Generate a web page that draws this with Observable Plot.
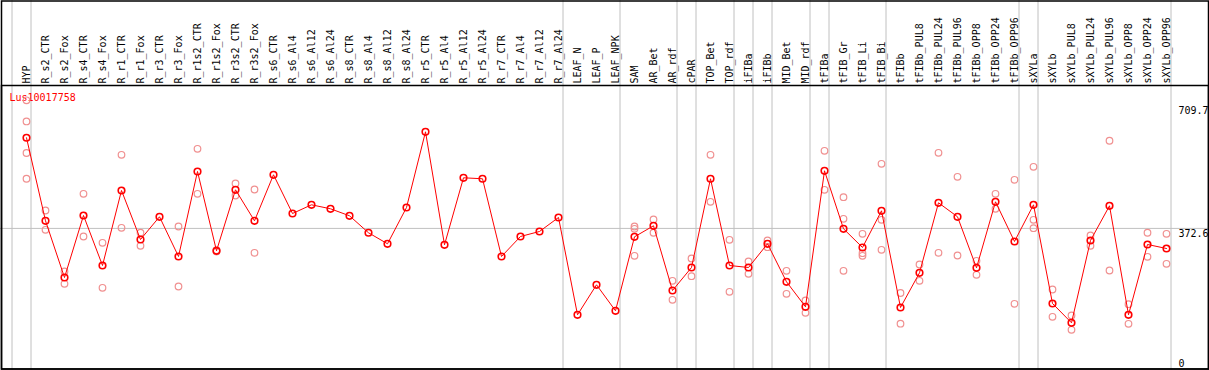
<!DOCTYPE html>
<html><head><meta charset="utf-8">
<script src="https://cdn.jsdelivr.net/npm/d3@7"></script>
<script src="https://cdn.jsdelivr.net/npm/@observablehq/plot@0.6"></script>
<style>html,body{margin:0;padding:0;background:#fff} svg{display:block}</style>
</head><body><div id="chart"></div>
<script>
const gene = "Lus10017758";
const categories = ["HYP","R_s2_CTR","R_s2_Fox","R_s4_CTR","R_s4_Fox","R_r1_CTR","R_r1_Fox","R_r3_CTR","R_r3_Fox","R_r1s2_CTR","R_r1s2_Fox","R_r3s2_CTR","R_r3s2_Fox","R_s6_CTR","R_s6_Al4","R_s6_Al12","R_s6_Al24","R_s8_CTR","R_s8_Al4","R_s8_Al12","R_s8_Al24","R_r5_CTR","R_r5_Al4","R_r5_Al12","R_r5_Al24","R_r7_CTR","R_r7_Al4","R_r7_Al12","R_r7_Al24","LEAF_N","LEAF_P","LEAF_NPK","SAM","AR_Bet","AR_rdf","cPAR","TOP_Bet","TOP_rdf","iFIBa","iFIBb","MID_Bet","MID_rdf","tFIBa","tFIB_Gr","tFIB_Li","tFIB_Bi","tFIBb","tFIBb_PUL8","tFIBb_PUL24","tFIBb_PUL96","tFIBb_OPP8","tFIBb_OPP24","tFIBb_OPP96","sXYLa","sXYLb","sXYLb_PUL8","sXYLb_PUL24","sXYLb_PUL96","sXYLb_OPP8","sXYLb_OPP24","sXYLb_OPP96"];
const means = [611.1,392.6,243.4,406.6,275.0,472.4,343.4,403.2,298.7,522.4,313.7,474.2,392.6,513.7,411.8,434.7,424.2,405.8,361.1,332.1,427.6,626.8,329.5,505.8,503.2,298.7,351.3,364.5,401.3,145.3,224.2,155.8,350.5,379.5,209.2,269.7,503.2,275.0,269.7,332.1,232.1,166.3,524.2,371.6,322.4,418.9,164.5,255.8,440.0,403.2,268.9,442.6,338.2,434.7,175.0,124.2,340.8,432.1,145.3,330.3,319.7];
const replicates = [
  [709.7,654,571,503.2],[419.7,368.9],[259.2,226.8],[463.7,351.3],[334.7,216.3],
  [566.3,374.2],[361.1,326.8],[],[377.6,219.7],[582.1,463.7],
  [315.3,311.8],[490.8,459.2],[475,308.4],[],[],
  [],[],[],[],[],
  [],[],[],[],[],
  [],[],[],[],[],
  [],[],[377.6,371.6,300.5],[396.1,361.1],[234.7,184.7],
  [293.4,246.8],[566.3,442.6],[342.6,205.8],[285.5,253.2],[340.8,323.2],
  [261.1,200.5],[182.9,150.5],[576.8,474.2],[454.7,397.9,261.1],[358.4,307.4,300.5],
  [542.6,395.3,316.3],[202.6,121.8],[277.6,234.7],[571.6,308.4],[508.4,301.3],
  [287.4,250.5],[463.7,424.2],[500.5,174.2],[534.7,395.3,373.2],[211.8,140],
  [143.4,105.8],[353.9,326.8],[603.2,261.8],[173.2,121.6],[361.1,297.9],
  [358.4,279.5]
];
const groupBreaks = [-1,0,28,31,34,35,37,38,39,41,42,45,52,53,60];
const yTicks = [709.7, 372.6, 0];
const refLine = 372.6;

const meanData = categories.map((c, i) => ({i, c, v: means[i]}));
const repData = replicates.flatMap((vals, i) => vals.map(v => ({i, v})));

const chart = Plot.plot({
  width: 1209, height: 370, margin: 0,
  x: {type: "linear", domain: [0, categories.length - 1], range: [26, 1166], axis: null},
  y: {domain: [0, 709.7], range: [369.5, 99.8], axis: null},
  style: {fontFamily: "'DejaVu Sans Mono', monospace", fontSize: "10px", background: "#fff"},
  marks: [
    Plot.ruleX(groupBreaks, {x: d => d, dx: 4.5, stroke: "#c0c0c0", strokeWidth: 1}),
    Plot.ruleY([refLine], {stroke: "#c0c0c0", strokeWidth: 1}),
    Plot.frame({stroke: "#000", strokeWidth: 1.5, insetLeft: 1, insetRight: 1, insetTop: 0.5, insetBottom: 1.5}),
    Plot.frame({stroke: "#000", strokeWidth: 1.5, insetLeft: 1, insetRight: 1, insetTop: 85, insetBottom: 1.5}),
    Plot.text(meanData, {x: "i", text: "c", frameAnchor: "top", dy: 83, rotate: -90, textAnchor: "start", lineAnchor: "middle", fill: "#000"}),
    Plot.text([gene], {frameAnchor: "top-left", text: d => d, dx: 9, dy: 93, lineAnchor: "top", textAnchor: "start", fill: "#ff0000"}),
    Plot.text([yTicks[0]], {x: () => categories.length - 1, y: d => d, text: d => String(d), dx: 12, dy: 7, lineAnchor: "top", textAnchor: "start", fill: "#000"}),
    Plot.text([yTicks[1]], {x: () => categories.length - 1, y: d => d, text: d => String(d), dx: 12, dy: 1.5, lineAnchor: "top", textAnchor: "start", fill: "#000"}),
    Plot.text([yTicks[2]], {x: () => categories.length - 1, y: d => d, text: d => String(d), dx: 12, dy: -10.5, lineAnchor: "top", textAnchor: "start", fill: "#000"}),
    Plot.dot(repData, {x: "i", y: "v", r: 3.3, stroke: "#f09090", strokeWidth: 1.2, fill: "none"}),
    Plot.line(meanData, {x: "i", y: "v", stroke: "#ff0000", strokeWidth: 1}),
    Plot.dot(meanData, {x: "i", y: "v", r: 3.3, stroke: "#ff0000", strokeWidth: 1.6, fill: "none"})
  ]
});
document.getElementById("chart").appendChild(chart);
</script>
</body></html>
